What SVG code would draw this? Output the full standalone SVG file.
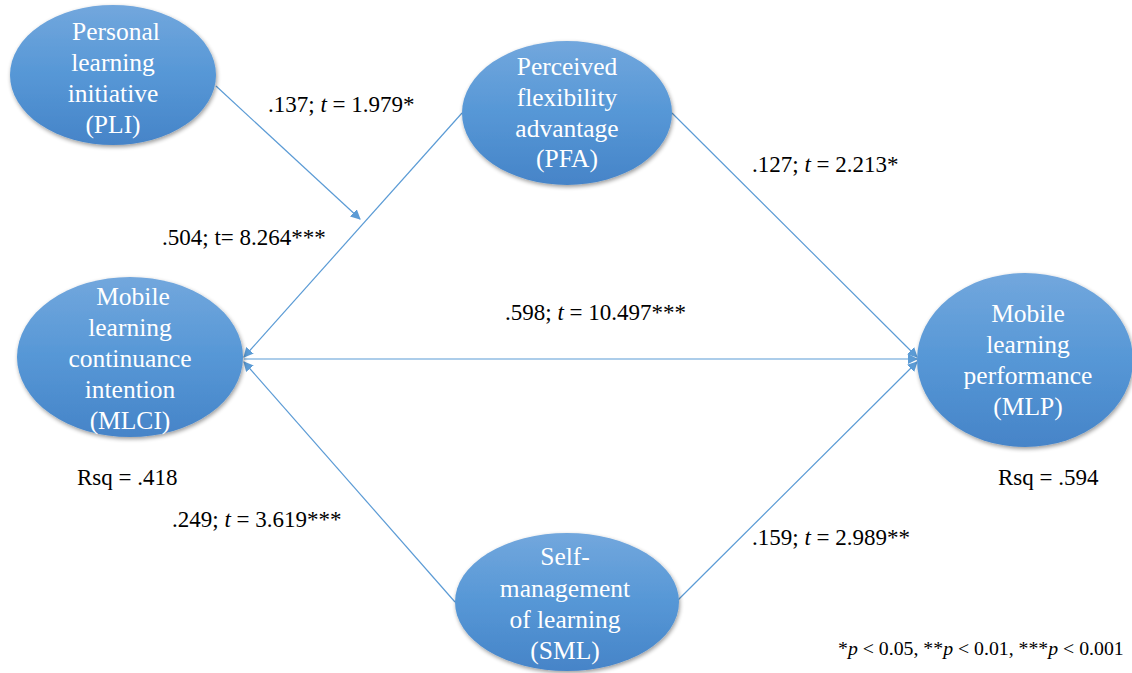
<svg xmlns="http://www.w3.org/2000/svg" width="1132" height="673" viewBox="0 0 1132 673">
<style>
text{font-family:"Liberation Serif","DejaVu Serif","Noto Serif","Times New Roman",Times,serif}
.node{fill:url(#g);filter:url(#sh)}
.nt{font-size:25.5px;fill:#ffffff;text-anchor:middle}
.lb{font-size:23px;fill:#000000}
.fn{font-size:19.8px;fill:#000000}
.c{stroke:#5b9bd5;stroke-width:1.2;fill:none;marker-end:url(#ah)}
</style>
<defs>
<linearGradient id="g" x1="0" y1="0" x2="0" y2="1">
<stop offset="0" stop-color="#72a7dd"/>
<stop offset="0.5" stop-color="#5697d6"/>
<stop offset="1" stop-color="#4684c8"/>
</linearGradient>
<filter id="sh" x="-10%" y="-10%" width="125%" height="125%">
<feGaussianBlur in="SourceAlpha" stdDeviation="2"/>
<feOffset dx="1" dy="2" result="b"/>
<feComponentTransfer><feFuncA type="linear" slope="0.4"/></feComponentTransfer>
<feMerge><feMergeNode/><feMergeNode in="SourceGraphic"/></feMerge>
</filter>
<marker id="ah" viewBox="0 0 10 10" refX="9" refY="5" markerWidth="10" markerHeight="10" markerUnits="userSpaceOnUse" orient="auto">
<path d="M0,0 L10,5 L0,10 z" fill="#5b9bd5"/>
</marker>
</defs>
<rect width="1132" height="673" fill="#ffffff"/>
<g id="connectors">
<line class="c" x1="216" y1="86" x2="360" y2="219"/>
<line class="c" x1="462" y1="113" x2="244" y2="357"/>
<line class="c" x1="672" y1="113" x2="917" y2="357"/>
<line class="c" x1="244" y1="359" x2="917" y2="359"/>
<line class="c" x1="455" y1="602" x2="244" y2="362"/>
<line class="c" x1="678" y1="600" x2="917" y2="362"/>
</g>
<g id="PLI">
<ellipse class="node" cx="113" cy="75" rx="103" ry="70"/>
<text class="nt"><tspan x="116" y="40">Personal</tspan><tspan x="113" y="71">learning</tspan><tspan x="113" y="102">initiative</tspan><tspan x="113" y="133">(PLI)</tspan></text>
</g>
<g id="PFA">
<ellipse class="node" cx="567" cy="113" rx="105" ry="72"/>
<text class="nt"><tspan x="567" y="75">Perceived</tspan><tspan x="567" y="106">flexibility</tspan><tspan x="567" y="137">advantage</tspan><tspan x="567" y="167">(PFA)</tspan></text>
</g>
<g id="MLCI">
<ellipse class="node" cx="130" cy="357" rx="113" ry="80"/>
<text class="nt"><tspan x="133" y="305">Mobile</tspan><tspan x="130" y="336">learning</tspan><tspan x="130" y="367">continuance</tspan><tspan x="130" y="398">intention</tspan><tspan x="130" y="429">(MLCI)</tspan></text>
</g>
<g id="MLP">
<ellipse class="node" cx="1025" cy="360" rx="108" ry="87"/>
<text class="nt"><tspan x="1028" y="322">Mobile</tspan><tspan x="1028" y="353">learning</tspan><tspan x="1028" y="384">performance</tspan><tspan x="1028" y="415">(MLP)</tspan></text>
</g>
<g id="SML">
<ellipse class="node" cx="567" cy="602" rx="112" ry="69"/>
<text class="nt"><tspan x="565" y="565">Self-</tspan><tspan x="565" y="597">management</tspan><tspan x="565" y="628">of learning</tspan><tspan x="565" y="659">(SML)</tspan></text>
</g>
<g id="labels">
<text class="lb" x="268" y="112">.137; <tspan font-style="italic">t</tspan> = 1.979*</text>
<text class="lb" x="752" y="172">.127; <tspan font-style="italic">t</tspan> = 2.213*</text>
<text class="lb" x="162" y="245">.504; t= 8.264***</text>
<text class="lb" x="505" y="320">.598; <tspan font-style="italic">t</tspan> = 10.497***</text>
<text class="lb" x="77" y="485">Rsq = .418</text>
<text class="lb" x="998" y="485">Rsq = .594</text>
<text class="lb" x="172" y="527">.249; <tspan font-style="italic">t</tspan> = 3.619***</text>
<text class="lb" x="752" y="545">.159; <tspan font-style="italic">t</tspan> = 2.989**</text>
<text class="fn" x="838" y="655">*<tspan font-style="italic">p</tspan> &lt; 0.05, **<tspan font-style="italic">p</tspan> &lt; 0.01, ***<tspan font-style="italic">p</tspan> &lt; 0.001</text>
</g>
</svg>
